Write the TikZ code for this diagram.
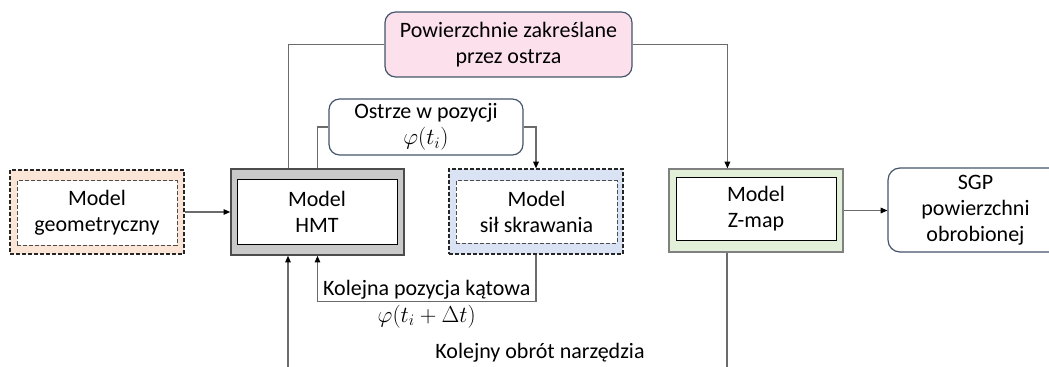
\documentclass[tikz,border=0pt]{standalone}
\usepackage{fontspec}
\setmainfont{Carlito}
\usetikzlibrary{arrows.meta,calc}
\definecolor{geofill}{HTML}{FBE5D6}
\definecolor{silfill}{HTML}{DAE3F3}
\definecolor{zfill}{HTML}{E2F0D9}
\definecolor{pinkfill}{HTML}{FCE0EC}
\definecolor{hmtfill}{HTML}{C9C9C9}
\definecolor{rborder}{HTML}{44546A}
\definecolor{wire}{HTML}{6B6B6B}
\begin{document}
\begin{tikzpicture}[x=0.75pt,y=-0.75pt,
  sz/.style n args={2}{minimum width=#1*0.75pt,minimum height=#2*0.75pt,inner sep=0pt},
  txt/.style={align=center,font=\fontsize{16.5}{19.5}\selectfont},
  fine dash/.style={dash pattern=on 3pt off 1.5pt},
  outerbox/.style={draw=#1,line width=0.9pt},
  innerbox/.style={draw=black,line width=0.75pt,fill=white,txt},
  roundbox/.style={draw=rborder,line width=0.9pt,rounded corners=8pt,txt},
  wireline/.style={draw=wire,line width=0.8pt},
  arr/.style={wireline,-{Triangle[length=5pt,width=4.2pt,fill=black,color=black]}},
  lbl/.style={txt,inner sep=1pt}]
\useasboundingbox (0,0) rectangle (1049,367);
\clip (0,0) rectangle (1049,367);

% geometric model
\node[outerbox=black!85,fine dash,fill=geofill,sz={174}{84}] (geoO) at (97,212) {};
\node[innerbox,fine dash,draw=black!70,fill=white,sz={160}{64}] (geo) at (97,213) {Model\\geometryczny};

% HMT model
\node[outerbox=black!70,line width=1.2pt,fill=hmtfill,sz={173}{86}] (hmtO) at (317.5,212) {};
\node[innerbox,sz={160}{64}] (hmt) at (317,212) {Model\\HMT};

% cutting force model
\node[outerbox=black!85,fine dash,fill=silfill,sz={174}{85}] (silO) at (536,211.5) {};
\node[innerbox,fine dash,draw=black!70,sz={161}{62}] (sil) at (536.5,212) {Model\\sił skrawania};

% Z-map model
\node[outerbox=black!50,fill=zfill,sz={174}{83}] (zO) at (756,210.5) {};
\node[innerbox,sz={160}{62}] (z) at (756,209) {Model\\Z-map};

% result
\node[roundbox,rounded corners=9pt,fill=white,sz={175}{84}] (sgp) at (975.5,210) {SGP\\powierzchni\\obrobionej};

% swept surfaces
\node[roundbox,fill=pinkfill,sz={247}{65}] (pw) at (508.5,44.5) {Powierzchnie zakreślane\\przez ostrza};

% edge position
\node[roundbox,fill=white,sz={194}{56}] (os) at (426,127) {Ostrze w pozycji\\$\varphi(t_i)$};

% connectors
\draw[arr] (geoO.east) -- (hmtO.west |- geoO.east);
\draw[wireline] ($(hmtO.north west)+(58,0)$) |- (pw.west);
\draw[arr] (pw.east) -| ($(zO.north west)+(59,0)$);
\draw[wireline] (hmtO.north) |- (os.west);
\draw[arr] (os.east) -| (silO.north);
\draw[arr] (zO.east) -- (sgp.west |- zO.east);
\draw[arr] (silO.south) -- ++(0,47) coordinate (back)
  -- (back -| hmtO.south)
     node[midway,above,lbl] {Kolejna pozycja kątowa}
     node[midway,below,lbl,yshift=-1pt] {$\varphi(t_i+\Delta t)$}
  -- (hmtO.south);

\coordinate (rotIn) at (288,367);
\coordinate (rotOut) at (727,367);
\draw[arr] (rotIn) -- (rotIn |- hmtO.south);
\draw[wireline] (rotOut |- zO.south) -- (rotOut);
\node[lbl] (rot) at (540,353) {Kolejny obrót narzędzia};
\end{tikzpicture}
\end{document}
